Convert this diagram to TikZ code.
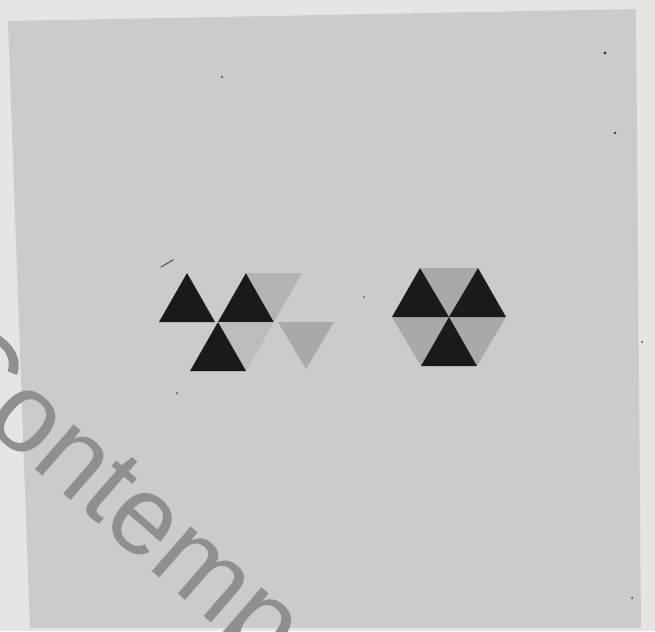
\documentclass[tikz,border=0pt]{standalone}
\usepackage{fontspec}
\setmainfont{Liberation Sans}
\definecolor{pagecol}{HTML}{E6E5E1}
\definecolor{cardcol}{HTML}{CBCBC8}
\definecolor{inkcol}{HTML}{1A1A1A}
\definecolor{greyA}{HTML}{A9A9A7}
\definecolor{greyB}{HTML}{B4B4B2}
\definecolor{greyC}{HTML}{BCBCBA}
\definecolor{wmcol}{HTML}{8F8F8D}
\begin{document}
\begin{tikzpicture}[x=1pt,y=-1pt,
  darktri/.style={fill=inkcol,draw=none},
  midtri/.style={fill=greyA,draw=none},
  paletri/.style={fill=greyB,draw=none},
  palesttri/.style={fill=greyC,draw=none},
  speck/.style={fill=inkcol!85}]
\useasboundingbox (0,0) rectangle (655,631);
\fill[pagecol] (0,0) rectangle (655,631);
% grey card
\fill[cardcol] (8,21) -- (636,9) -- (641,628) -- (30,628) -- cycle;
% left group
\fill[darktri] (159,322) -- (215,322) -- (187,273) -- cycle;
\fill[darktri] (218,322) -- (274,322) -- (246,273) -- cycle;
\fill[paletri] (246,273) -- (302,273) -- (274,322) -- cycle;
\fill[palesttri] (218,322) -- (274,322) -- (246,371) -- cycle;
\fill[darktri] (190,371) -- (246,371) -- (218,322) -- cycle;
\fill[midtri] (278,322) -- (334,322) -- (306,369) -- cycle;
% hexagon
\fill[midtri] (420,268) -- (478,268) -- (449,317) -- cycle;
\fill[midtri] (392,317) -- (449,317) -- (421,366) -- cycle;
\fill[midtri] (449,317) -- (506,317) -- (477,366) -- cycle;
\fill[darktri] (392,317) -- (420,268) -- (449,317) -- cycle;
\fill[darktri] (449,317) -- (478,268) -- (506,317) -- cycle;
\fill[darktri] (449,317) -- (421,366) -- (477,366) -- cycle;
% specks
\fill[speck] (605,53) circle (1.6);
\fill[speck] (615,133) circle (1.3);
\fill[speck] (222,77) circle (1);
\fill[speck] (177,393) circle (1);
\fill[speck] (120,480) circle (0.9);
\fill[speck] (364,297) circle (0.9);
\fill[speck] (632,598) circle (1);
\fill[speck] (642,342) circle (1);
\draw[inkcol!70,line width=1.2pt,line cap=round] (161,267) -- (173,260);
% watermark
\node[anchor=base west,inner sep=0pt,rotate=-41,text=wmcol,
      font=\fontsize{112}{112}\selectfont] (wm) at (-79,370) {Contempo};
\end{tikzpicture}
\end{document}
